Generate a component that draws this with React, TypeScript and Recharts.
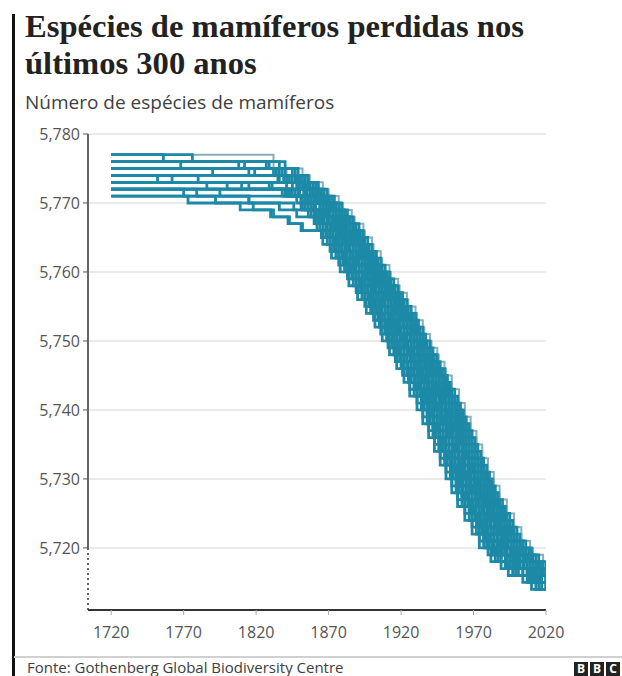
import React from 'react';
import { LineChart, Line, XAxis, YAxis, CartesianGrid, ReferenceLine } from 'recharts';

const xTicks = [1720, 1770, 1820, 1870, 1920, 1970, 2020];
const yTicks = [5720, 5730, 5740, 5750, 5760, 5770, 5780];

type Pt = [number, number];

// Simulated trajectories: [year, number of mammal species]
const simA: Pt[] = [[1720,5777],[1832,5775],[1852,5773],[1866,5771],[1877,5769],[1886,5767],[1894,5765],[1900,5763],[1906,5761],[1912,5759],[1918,5757],[1924,5755],[1930,5753],[1935,5751],[1940,5749],[1945,5747],[1950,5745],[1955,5743],[1960,5741],[1964,5739],[1968,5737],[1972,5735],[1976,5733],[1980,5731],[1984,5729],[1988,5727],[1993,5725],[1998,5723],[2003,5721],[2009,5719],[2018,5717],[2020,5717]];
const simV: Pt[] = [[1720,5775],[1841,5774],[1857,5772],[1870,5770],[1880,5768],[1888,5766],[1895,5764],[1901,5762],[1907,5760],[1913,5758],[1919,5756],[1925,5754],[1931,5752],[1936,5750],[1941,5748],[1946,5746],[1951,5744],[1955,5742],[1960,5740],[1964,5738],[1968,5736],[1972,5734],[1976,5732],[1980,5730],[1984,5728],[1988,5726],[1993,5724],[1998,5722],[2003,5720],[2011,5718],[2017,5717],[2020,5717]];
const simB: Pt[] = [[1720,5777],[1776,5776],[1840,5774],[1856,5772],[1869,5770],[1879,5768],[1887,5766],[1894,5764],[1900,5762],[1906,5760],[1912,5758],[1918,5756],[1924,5754],[1930,5752],[1935,5750],[1940,5748],[1945,5746],[1950,5744],[1954,5742],[1959,5740],[1963,5738],[1967,5736],[1971,5734],[1975,5732],[1979,5730],[1983,5728],[1987,5726],[1992,5724],[1997,5722],[2002,5720],[2010,5718],[2016,5717],[2020,5717]];
const simC: Pt[] = [[1720,5776],[1827,5775],[1847,5773],[1861,5771],[1872,5769],[1881,5767],[1889,5765],[1895,5763],[1901,5761],[1907,5759],[1913,5757],[1919,5755],[1925,5753],[1930,5751],[1935,5749],[1940,5747],[1945,5745],[1950,5743],[1955,5741],[1959,5739],[1963,5737],[1967,5735],[1971,5733],[1975,5731],[1979,5729],[1983,5727],[1988,5725],[1993,5723],[1998,5721],[2004,5719],[2013,5717],[2020,5717]];
const simD: Pt[] = [[1720,5776],[1836,5774],[1852,5772],[1865,5770],[1875,5768],[1883,5766],[1890,5764],[1896,5762],[1902,5760],[1908,5758],[1914,5756],[1920,5754],[1926,5752],[1931,5750],[1936,5748],[1941,5746],[1946,5744],[1950,5742],[1955,5740],[1959,5738],[1963,5736],[1967,5734],[1971,5732],[1975,5730],[1979,5728],[1983,5726],[1988,5724],[1993,5722],[1998,5720],[2006,5718],[2018,5716],[2020,5716]];
const simE: Pt[] = [[1720,5775],[1790,5774],[1843,5773],[1857,5771],[1868,5769],[1877,5767],[1885,5765],[1891,5763],[1897,5761],[1903,5759],[1909,5757],[1915,5755],[1921,5753],[1926,5751],[1931,5749],[1936,5747],[1941,5745],[1946,5743],[1951,5741],[1955,5739],[1959,5737],[1963,5735],[1967,5733],[1971,5731],[1975,5729],[1979,5727],[1984,5725],[1989,5723],[1994,5721],[2000,5719],[2009,5717],[2016,5716],[2020,5716]];
const simF: Pt[] = [[1720,5775],[1832,5774],[1848,5772],[1861,5770],[1871,5768],[1879,5766],[1886,5764],[1892,5762],[1898,5760],[1904,5758],[1910,5756],[1916,5754],[1922,5752],[1927,5750],[1932,5748],[1937,5746],[1942,5744],[1946,5742],[1951,5740],[1955,5738],[1959,5736],[1963,5734],[1967,5732],[1971,5730],[1975,5728],[1979,5726],[1984,5724],[1989,5722],[1994,5720],[2002,5718],[2014,5716],[2020,5716]];
const simG: Pt[] = [[1720,5775],[1819,5774],[1839,5773],[1853,5771],[1864,5769],[1873,5767],[1881,5765],[1887,5763],[1893,5761],[1899,5759],[1905,5757],[1911,5755],[1917,5753],[1922,5751],[1927,5749],[1932,5747],[1937,5745],[1942,5743],[1947,5741],[1951,5739],[1955,5737],[1959,5735],[1963,5733],[1967,5731],[1971,5729],[1975,5727],[1980,5725],[1985,5723],[1990,5721],[1996,5719],[2005,5717],[2020,5715]];
const simH: Pt[] = [[1720,5774],[1780,5773],[1845,5772],[1858,5770],[1868,5768],[1876,5766],[1883,5764],[1889,5762],[1895,5760],[1901,5758],[1907,5756],[1913,5754],[1919,5752],[1924,5750],[1929,5748],[1934,5746],[1939,5744],[1943,5742],[1948,5740],[1952,5738],[1956,5736],[1960,5734],[1964,5732],[1968,5730],[1972,5728],[1976,5726],[1981,5724],[1986,5722],[1991,5720],[1999,5718],[2011,5716],[2020,5716]];
const simI: Pt[] = [[1720,5774],[1836,5773],[1850,5771],[1861,5769],[1870,5767],[1878,5765],[1884,5763],[1890,5761],[1896,5759],[1902,5757],[1908,5755],[1914,5753],[1919,5751],[1924,5749],[1929,5747],[1934,5745],[1939,5743],[1944,5741],[1948,5739],[1952,5737],[1956,5735],[1960,5733],[1964,5731],[1968,5729],[1972,5727],[1977,5725],[1982,5723],[1987,5721],[1993,5719],[2002,5717],[2017,5715],[2020,5715]];
const simJ: Pt[] = [[1720,5774],[1762,5773],[1841,5772],[1854,5770],[1864,5768],[1872,5766],[1879,5764],[1885,5762],[1891,5760],[1897,5758],[1903,5756],[1909,5754],[1915,5752],[1920,5750],[1925,5748],[1930,5746],[1935,5744],[1939,5742],[1944,5740],[1948,5738],[1952,5736],[1956,5734],[1960,5732],[1964,5730],[1968,5728],[1972,5726],[1977,5724],[1982,5722],[1987,5720],[1995,5718],[2007,5716],[2020,5715]];
const simK: Pt[] = [[1720,5773],[1800,5772],[1847,5771],[1858,5769],[1867,5767],[1875,5765],[1881,5763],[1887,5761],[1893,5759],[1899,5757],[1905,5755],[1911,5753],[1916,5751],[1921,5749],[1926,5747],[1931,5745],[1936,5743],[1941,5741],[1945,5739],[1949,5737],[1953,5735],[1957,5733],[1961,5731],[1965,5729],[1969,5727],[1974,5725],[1979,5723],[1984,5721],[1990,5719],[1999,5717],[2014,5715],[2020,5715]];
const simL: Pt[] = [[1720,5773],[1786,5772],[1838,5771],[1851,5770],[1861,5768],[1869,5766],[1876,5764],[1882,5762],[1888,5760],[1894,5758],[1900,5756],[1906,5754],[1912,5752],[1917,5750],[1922,5748],[1927,5746],[1932,5744],[1936,5742],[1941,5740],[1945,5738],[1949,5736],[1953,5734],[1957,5732],[1961,5730],[1965,5728],[1969,5726],[1974,5724],[1979,5722],[1984,5720],[1992,5718],[2004,5716],[2020,5714]];
const simM: Pt[] = [[1720,5773],[1829,5772],[1843,5771],[1854,5769],[1863,5767],[1871,5765],[1877,5763],[1883,5761],[1889,5759],[1895,5757],[1901,5755],[1907,5753],[1912,5751],[1917,5749],[1922,5747],[1927,5745],[1932,5743],[1937,5741],[1941,5739],[1945,5737],[1949,5735],[1953,5733],[1957,5731],[1961,5729],[1965,5727],[1970,5725],[1975,5723],[1980,5721],[1986,5719],[1995,5717],[2010,5715],[2020,5715]];
const simN: Pt[] = [[1720,5772],[1795,5771],[1848,5770],[1858,5768],[1866,5766],[1873,5764],[1879,5762],[1885,5760],[1891,5758],[1897,5756],[1903,5754],[1909,5752],[1914,5750],[1919,5748],[1924,5746],[1929,5744],[1933,5742],[1938,5740],[1942,5738],[1946,5736],[1950,5734],[1954,5732],[1958,5730],[1962,5728],[1966,5726],[1971,5724],[1976,5722],[1981,5720],[1989,5718],[2001,5716],[2017,5714],[2020,5714]];
const simO: Pt[] = [[1720,5772],[1840,5771],[1851,5769],[1860,5767],[1868,5765],[1874,5763],[1880,5761],[1886,5759],[1892,5757],[1898,5755],[1904,5753],[1909,5751],[1914,5749],[1919,5747],[1924,5745],[1929,5743],[1934,5741],[1938,5739],[1942,5737],[1946,5735],[1950,5733],[1954,5731],[1958,5729],[1962,5727],[1967,5725],[1972,5723],[1977,5721],[1983,5719],[1992,5717],[2007,5715],[2020,5714]];
const simP: Pt[] = [[1720,5772],[1779,5771],[1815,5770],[1836,5769],[1848,5768],[1862,5766],[1869,5764],[1875,5762],[1881,5760],[1887,5758],[1893,5756],[1899,5754],[1905,5752],[1910,5750],[1915,5748],[1920,5746],[1925,5744],[1929,5742],[1934,5740],[1938,5738],[1942,5736],[1946,5734],[1950,5732],[1954,5730],[1958,5728],[1962,5726],[1967,5724],[1972,5722],[1977,5720],[1985,5718],[1997,5716],[2013,5714],[2020,5714]];
const simQ: Pt[] = [[1720,5771],[1773,5770],[1809,5769],[1830,5768],[1842,5767],[1851,5766],[1865,5765],[1871,5763],[1877,5761],[1883,5759],[1889,5757],[1895,5755],[1901,5753],[1906,5751],[1911,5749],[1916,5747],[1921,5745],[1926,5743],[1931,5741],[1935,5739],[1939,5737],[1943,5735],[1947,5733],[1951,5731],[1955,5729],[1959,5727],[1964,5725],[1969,5723],[1974,5721],[1980,5719],[1989,5717],[2004,5715],[2020,5714]];
const simR: Pt[] = [[1720,5771],[1792,5770],[1818,5769],[1832,5768],[1843,5767],[1852,5766],[1866,5764],[1872,5762],[1878,5760],[1884,5758],[1890,5756],[1896,5754],[1902,5752],[1907,5750],[1912,5748],[1917,5746],[1922,5744],[1926,5742],[1931,5740],[1935,5738],[1939,5736],[1943,5734],[1947,5732],[1951,5730],[1955,5728],[1959,5726],[1964,5724],[1969,5722],[1974,5720],[1982,5718],[1994,5716],[2010,5714],[2020,5714]];
const simS: Pt[] = [[1720,5776],[1768,5775],[1815,5774],[1835,5773],[1849,5771],[1860,5769],[1869,5767],[1877,5765],[1883,5763],[1889,5761],[1895,5759],[1901,5757],[1907,5755],[1913,5753],[1918,5751],[1923,5749],[1928,5747],[1933,5745],[1938,5743],[1943,5741],[1947,5739],[1951,5737],[1955,5735],[1959,5733],[1963,5731],[1967,5729],[1971,5727],[1976,5725],[1981,5723],[1986,5721],[1992,5719],[2001,5717],[2016,5715],[2020,5715]];
const simT: Pt[] = [[1720,5772],[1853,5771],[1860,5770],[1870,5768],[1878,5766],[1885,5764],[1891,5762],[1897,5760],[1903,5758],[1909,5756],[1915,5754],[1921,5752],[1926,5750],[1931,5748],[1936,5746],[1941,5744],[1945,5742],[1950,5740],[1954,5738],[1958,5736],[1962,5734],[1966,5732],[1970,5730],[1974,5728],[1978,5726],[1983,5724],[1988,5722],[1993,5720],[2001,5718],[2013,5716],[2020,5716]];
const simU: Pt[] = [[1720,5774],[1752,5773],[1810,5772],[1841,5771],[1852,5769],[1861,5767],[1869,5765],[1875,5763],[1881,5761],[1887,5759],[1893,5757],[1899,5755],[1905,5753],[1910,5751],[1915,5749],[1920,5747],[1925,5745],[1930,5743],[1935,5741],[1939,5739],[1943,5737],[1947,5735],[1951,5733],[1955,5731],[1959,5729],[1963,5727],[1968,5725],[1973,5723],[1978,5721],[1984,5719],[1993,5717],[2008,5715],[2020,5715]];
const simW: Pt[] = [[1720,5776],[1812,5775],[1838,5774],[1854,5772],[1867,5770],[1877,5768],[1885,5766],[1892,5764],[1898,5762],[1904,5760],[1910,5758],[1916,5756],[1922,5754],[1928,5752],[1933,5750],[1938,5748],[1943,5746],[1948,5744],[1952,5742],[1957,5740],[1961,5738],[1965,5736],[1969,5734],[1973,5732],[1977,5730],[1981,5728],[1985,5726],[1990,5724],[1995,5722],[2000,5720],[2008,5718],[2020,5716]];
const simX: Pt[] = [[1720,5775],[1834,5774],[1850,5772],[1863,5770],[1873,5768],[1881,5766],[1888,5764],[1894,5762],[1900,5760],[1906,5758],[1912,5756],[1918,5754],[1924,5752],[1929,5750],[1934,5748],[1939,5746],[1944,5744],[1948,5742],[1953,5740],[1957,5738],[1961,5736],[1965,5734],[1969,5732],[1973,5730],[1977,5728],[1981,5726],[1986,5724],[1991,5722],[1996,5720],[2004,5718],[2016,5716],[2020,5716]];
const simY: Pt[] = [[1720,5773],[1815,5772],[1843,5771],[1856,5770],[1866,5768],[1874,5766],[1881,5764],[1887,5762],[1893,5760],[1899,5758],[1905,5756],[1911,5754],[1917,5752],[1922,5750],[1927,5748],[1932,5746],[1937,5744],[1941,5742],[1946,5740],[1950,5738],[1954,5736],[1958,5734],[1962,5732],[1966,5730],[1970,5728],[1974,5726],[1979,5724],[1984,5722],[1989,5720],[1997,5718],[2009,5716],[2020,5715]];
const simZ: Pt[] = [[1720,5772],[1770,5771],[1815,5770],[1846,5769],[1856,5768],[1864,5766],[1871,5764],[1877,5762],[1883,5760],[1889,5758],[1895,5756],[1901,5754],[1907,5752],[1912,5750],[1917,5748],[1922,5746],[1927,5744],[1931,5742],[1936,5740],[1940,5738],[1944,5736],[1948,5734],[1952,5732],[1956,5730],[1960,5728],[1964,5726],[1969,5724],[1974,5722],[1979,5720],[1987,5718],[1999,5716],[2015,5714],[2020,5714]];
const simAA: Pt[] = [[1720,5776],[1808,5775],[1845,5773],[1859,5771],[1870,5769],[1879,5767],[1887,5765],[1893,5763],[1899,5761],[1905,5759],[1911,5757],[1917,5755],[1923,5753],[1928,5751],[1933,5749],[1938,5747],[1943,5745],[1948,5743],[1953,5741],[1957,5739],[1961,5737],[1965,5735],[1969,5733],[1973,5731],[1977,5729],[1981,5727],[1986,5725],[1991,5723],[1996,5721],[2002,5719],[2011,5717],[2020,5716]];
const simAB: Pt[] = [[1720,5774],[1841,5773],[1855,5771],[1866,5769],[1875,5767],[1883,5765],[1889,5763],[1895,5761],[1901,5759],[1907,5757],[1913,5755],[1919,5753],[1924,5751],[1929,5749],[1934,5747],[1939,5745],[1944,5743],[1949,5741],[1953,5739],[1957,5737],[1961,5735],[1965,5733],[1969,5731],[1973,5729],[1977,5727],[1982,5725],[1987,5723],[1992,5721],[1998,5719],[2007,5717],[2020,5716]];
const simAC: Pt[] = [[1720,5773],[1831,5772],[1845,5771],[1856,5769],[1865,5767],[1873,5765],[1879,5763],[1885,5761],[1891,5759],[1897,5757],[1903,5755],[1909,5753],[1914,5751],[1919,5749],[1924,5747],[1929,5745],[1934,5743],[1939,5741],[1943,5739],[1947,5737],[1951,5735],[1955,5733],[1959,5731],[1963,5729],[1967,5727],[1972,5725],[1977,5723],[1982,5721],[1988,5719],[1997,5717],[2012,5715],[2020,5715]];
const simAD: Pt[] = [[1720,5777],[1756,5776],[1829,5775],[1849,5773],[1863,5771],[1874,5769],[1883,5767],[1891,5765],[1897,5763],[1903,5761],[1909,5759],[1915,5757],[1921,5755],[1927,5753],[1932,5751],[1937,5749],[1942,5747],[1947,5745],[1952,5743],[1957,5741],[1961,5739],[1965,5737],[1969,5735],[1973,5733],[1977,5731],[1981,5729],[1985,5727],[1990,5725],[1995,5723],[2000,5721],[2006,5719],[2015,5717],[2020,5717]];

const outerSims: Pt[][] = [simA, simV];
const innerSims: Pt[][] = [simB, simAD, simC, simW, simAA, simD, simE, simX, simF, simAB, simG, simT, simH, simI, simY, simS, simJ, simK, simL, simAC, simM, simN, simU, simO, simZ, simP, simQ, simR];

const LIGHT = '#86afb8';
const DARK = '#1c89a7';

const fmt = (v: number) => v.toLocaleString('en-US');
const sans = '"Open Sans", "Noto Sans", sans-serif';

const toRows = (s: Pt[]) => s.map(([year, v]) => ({ year, v }));

export default function App() {
  return (
    <div style={{ position: 'fixed', left: 0, top: 0, width: 622, height: 676, background: '#fff', overflow: 'hidden' }}>
      <div style={{ position: 'absolute', left: 12, top: 14, width: 3, height: 662, background: '#111' }} />
      <div style={{ position: 'absolute', left: 25, top: 8, width: 595, fontFamily: '"Liberation Serif", serif', fontWeight: 700, fontSize: 32.6, lineHeight: '37px', color: '#222' }}>
        Espécies de mamíferos perdidas nos<br />últimos 300 anos
      </div>
      <div style={{ position: 'absolute', left: 25, top: 89, fontFamily: sans, fontSize: 19, color: '#404040', whiteSpace: 'nowrap' }}>
        Número de espécies de mamíferos
      </div>
      <div style={{ position: 'absolute', left: 0, top: 110 }}>
        <LineChart width={622} height={550} margin={{ top: 24, right: 76, bottom: 20, left: 0 }}>
          <CartesianGrid vertical={false} stroke="#e3e3e3" strokeWidth={1.5} />
          <XAxis
            type="number"
            dataKey="year"
            domain={[1704, 2020]}
            ticks={xTicks}
            allowDataOverflow
            height={30}
            axisLine={{ stroke: '#333', strokeWidth: 2 }}
            tickLine={{ stroke: '#aaa' }}
            tickSize={5}
            tickMargin={12}
            tick={{ fill: '#555', fontSize: 16, fontFamily: sans }}
          />
          <YAxis
            type="number"
            domain={[5711, 5780]}
            ticks={yTicks}
            allowDataOverflow
            width={88}
            axisLine={false}
            tickLine={{ stroke: '#555' }}
            tickSize={5}
            tickMargin={3}
            tickFormatter={fmt}
            tick={{ fill: '#555', fontSize: 16, fontFamily: sans }}
          />
          <ReferenceLine segment={[{ x: 1704, y: 5780 }, { x: 1704, y: 5720 }]} stroke="#666" strokeWidth={2} ifOverflow="visible" />
          <ReferenceLine segment={[{ x: 1704, y: 5720 }, { x: 1704, y: 5711 }]} stroke="#666" strokeWidth={2} strokeDasharray="2 3" ifOverflow="visible" />
          {outerSims.map((s, i) => (
            <Line
              key={'o' + i}
              data={toRows(s)}
              dataKey="v"
              type="stepAfter"
              stroke={LIGHT}
              strokeWidth={2}
              dot={false}
              activeDot={false}
              isAnimationActive={false}
            />
          ))}
          {innerSims.map((s, i) => (
            <Line
              key={'i' + i}
              data={toRows(s)}
              dataKey="v"
              type="stepAfter"
              stroke={DARK}
              strokeWidth={2.8}
              dot={false}
              activeDot={false}
              isAnimationActive={false}
            />
          ))}
        </LineChart>
      </div>
      <div style={{ position: 'absolute', left: 14, top: 656, width: 608, height: 2, background: '#d0d0d0' }} />
      <div style={{ position: 'absolute', left: 27, top: 659, fontFamily: sans, fontSize: 15, lineHeight: '17px', color: '#404040', whiteSpace: 'nowrap' }}>
        Fonte: Gothenberg Global Biodiversity Centre
      </div>
      {['B', 'B', 'C'].map((c, i) => (
        <div key={i} style={{ position: 'absolute', left: 574 + i * 16, top: 662, width: 14, height: 14, background: '#222', color: '#fff', fontFamily: sans, fontWeight: 700, fontSize: 12, lineHeight: '14px', textAlign: 'center' }}>{c}</div>
      ))}
    </div>
  );
}
